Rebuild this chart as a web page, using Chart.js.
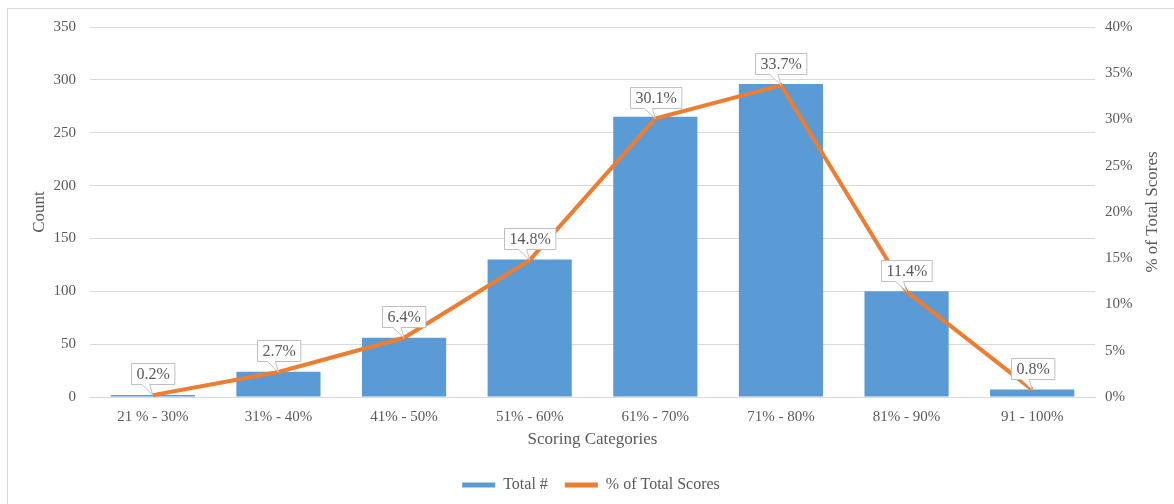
<!DOCTYPE html>
<html>
<head>
<meta charset="utf-8">
<script src="https://cdn.jsdelivr.net/npm/chart.js@4/dist/chart.umd.min.js"></script>
<style>
  html, body { margin: 0; padding: 0; background: #fff; }
  #wrap { width: 1174px; height: 504px; }
</style>
</head>
<body>
<div id="wrap"><canvas id="scoreChart" width="1174" height="504"></canvas></div>
<script>
// chart data
const categories = ["21 % - 30%", "31% - 40%", "41% - 50%", "51% - 60%", "61% - 70%", "71% - 80%", "81% - 90%", "91 - 100%"];
const totals = [2, 24, 56, 130, 265, 296, 100, 7];
const percents = [0.2, 2.7, 6.4, 14.8, 30.1, 33.7, 11.4, 0.8];

const textColor = "#595959";
const gridColor = "#d9d9d9";
const fontFamily = "'Liberation Serif', 'Times New Roman', serif";

// light frame around the whole chart + right axis title (reads bottom to top)
const framePlugin = {
  id: "frame",
  beforeDraw(chart) {
    const ctx = chart.ctx;
    ctx.save();
    ctx.fillStyle = "#fff";
    ctx.fillRect(0, 0, chart.width, chart.height);
    ctx.strokeStyle = "#d9d9d9";
    ctx.lineWidth = 1;
    ctx.strokeRect(7.5, 8.5, chart.width + 20, chart.height + 20);
    ctx.restore();
  },
  afterDraw(chart) {
    const area = chart.chartArea;
    const ctx = chart.ctx;
    ctx.save();
    ctx.translate(1153, (area.top + area.bottom) / 2);
    ctx.rotate(-Math.PI / 2);
    ctx.font = "17px " + fontFamily;
    ctx.fillStyle = textColor;
    ctx.textAlign = "center";
    ctx.textBaseline = "middle";
    ctx.fillText("% of Total Scores", 0, 0);
    ctx.restore();
  },
};

// callout labels on the line points
const calloutPlugin = {
  id: "callouts",
  afterDatasetsDraw(chart) {
    const meta = chart.getDatasetMeta(1);
    const ctx = chart.ctx;
    ctx.save();
    ctx.font = "16px " + fontFamily;
    ctx.textAlign = "center";
    ctx.textBaseline = "middle";
    meta.data.forEach((pt, i) => {
      const label = percents[i].toFixed(1) + "%";
      const w = ctx.measureText(label).width + 10;
      const h = 21;
      const x = pt.x;
      const y = pt.y;
      const bottom = y - 11;
      const left = Math.round(x - w / 2) + 0.5;
      const top = Math.round(bottom - h) + 0.5;
      const b = top + h;
      ctx.beginPath();
      ctx.moveTo(left, top);
      ctx.lineTo(left + w, top);
      ctx.lineTo(left + w, b);
      ctx.lineTo(x - 3, b);
      ctx.lineTo(x, y);
      ctx.lineTo(x - 11, b);
      ctx.lineTo(left, b);
      ctx.closePath();
      ctx.fillStyle = "#fff";
      ctx.fill();
      ctx.strokeStyle = "#bfbfbf";
      ctx.lineWidth = 1;
      ctx.stroke();
      ctx.fillStyle = textColor;
      ctx.fillText(label, left + w / 2, top + h / 2 + 1);
    });
    ctx.restore();
  },
};

const ctx = document.getElementById("scoreChart").getContext("2d");
const scoreChart = new Chart(ctx, {
  type: "bar",
  data: {
    labels: categories,
    datasets: [
      {
        label: "Total #",
        data: totals,
        backgroundColor: "#5b9bd5",
        yAxisID: "y",
        order: 2,
        categoryPercentage: 1,
        barPercentage: 0.67,
      },
      {
        type: "line",
        label: "% of Total Scores",
        data: percents,
        borderColor: "#ed7d31",
        backgroundColor: "#ed7d31",
        borderWidth: 4,
        pointRadius: 0,
        tension: 0,
        yAxisID: "y1",
        order: 1,
      },
    ],
  },
  options: {
    responsive: false,
    animation: false,
    layout: { padding: { left: 8, right: 0, top: 27, bottom: 1 } },
    plugins: {
      tooltip: { enabled: false },
      legend: {
        position: "bottom",
        labels: {
          color: textColor,
          font: { family: fontFamily, size: 16 },
          boxWidth: 33,
          boxHeight: 5,
          padding: 17,
          generateLabels: (chart) =>
            chart.data.datasets.map((ds, i) => ({
              text: ds.label,
              fillStyle: i === 0 ? "#5b9bd5" : "#ed7d31",
              strokeStyle: "transparent",
              lineWidth: 0,
              fontColor: textColor,
              datasetIndex: i,
            })),
        },
      },
    },
    scales: {
      x: {
        grid: { display: false },
        border: { display: true, color: gridColor },
        ticks: { color: textColor, font: { family: fontFamily, size: 15 }, padding: 3, maxRotation: 0 },
        title: { display: true, text: "Scoring Categories", color: textColor, font: { family: fontFamily, size: 17 }, padding: { top: 4, bottom: 10 } },
        afterFit: (scale) => { scale.height = 63; },
      },
      y: {
        position: "left",
        min: 0,
        max: 350,
        ticks: { stepSize: 50, color: textColor, font: { family: fontFamily, size: 15 }, padding: 14 },
        grid: { color: gridColor, drawTicks: false },
        border: { display: false },
        title: { display: true, text: "Count", color: textColor, font: { family: fontFamily, size: 17 }, padding: { top: 21, bottom: 0 } },
        afterFit: (scale) => { scale.width = 82; },
      },
      y1: {
        position: "right",
        min: 0,
        max: 40,
        ticks: {
          stepSize: 5,
          color: textColor,
          font: { family: fontFamily, size: 15 },
          padding: 10,
          callback: (v) => v + "%",
        },
        grid: { display: false, drawTicks: false },
        border: { display: false },
        afterFit: (scale) => { scale.width = 79; },
      },
    },
  },
  plugins: [framePlugin, calloutPlugin],
});
</script>
</body>
</html>
